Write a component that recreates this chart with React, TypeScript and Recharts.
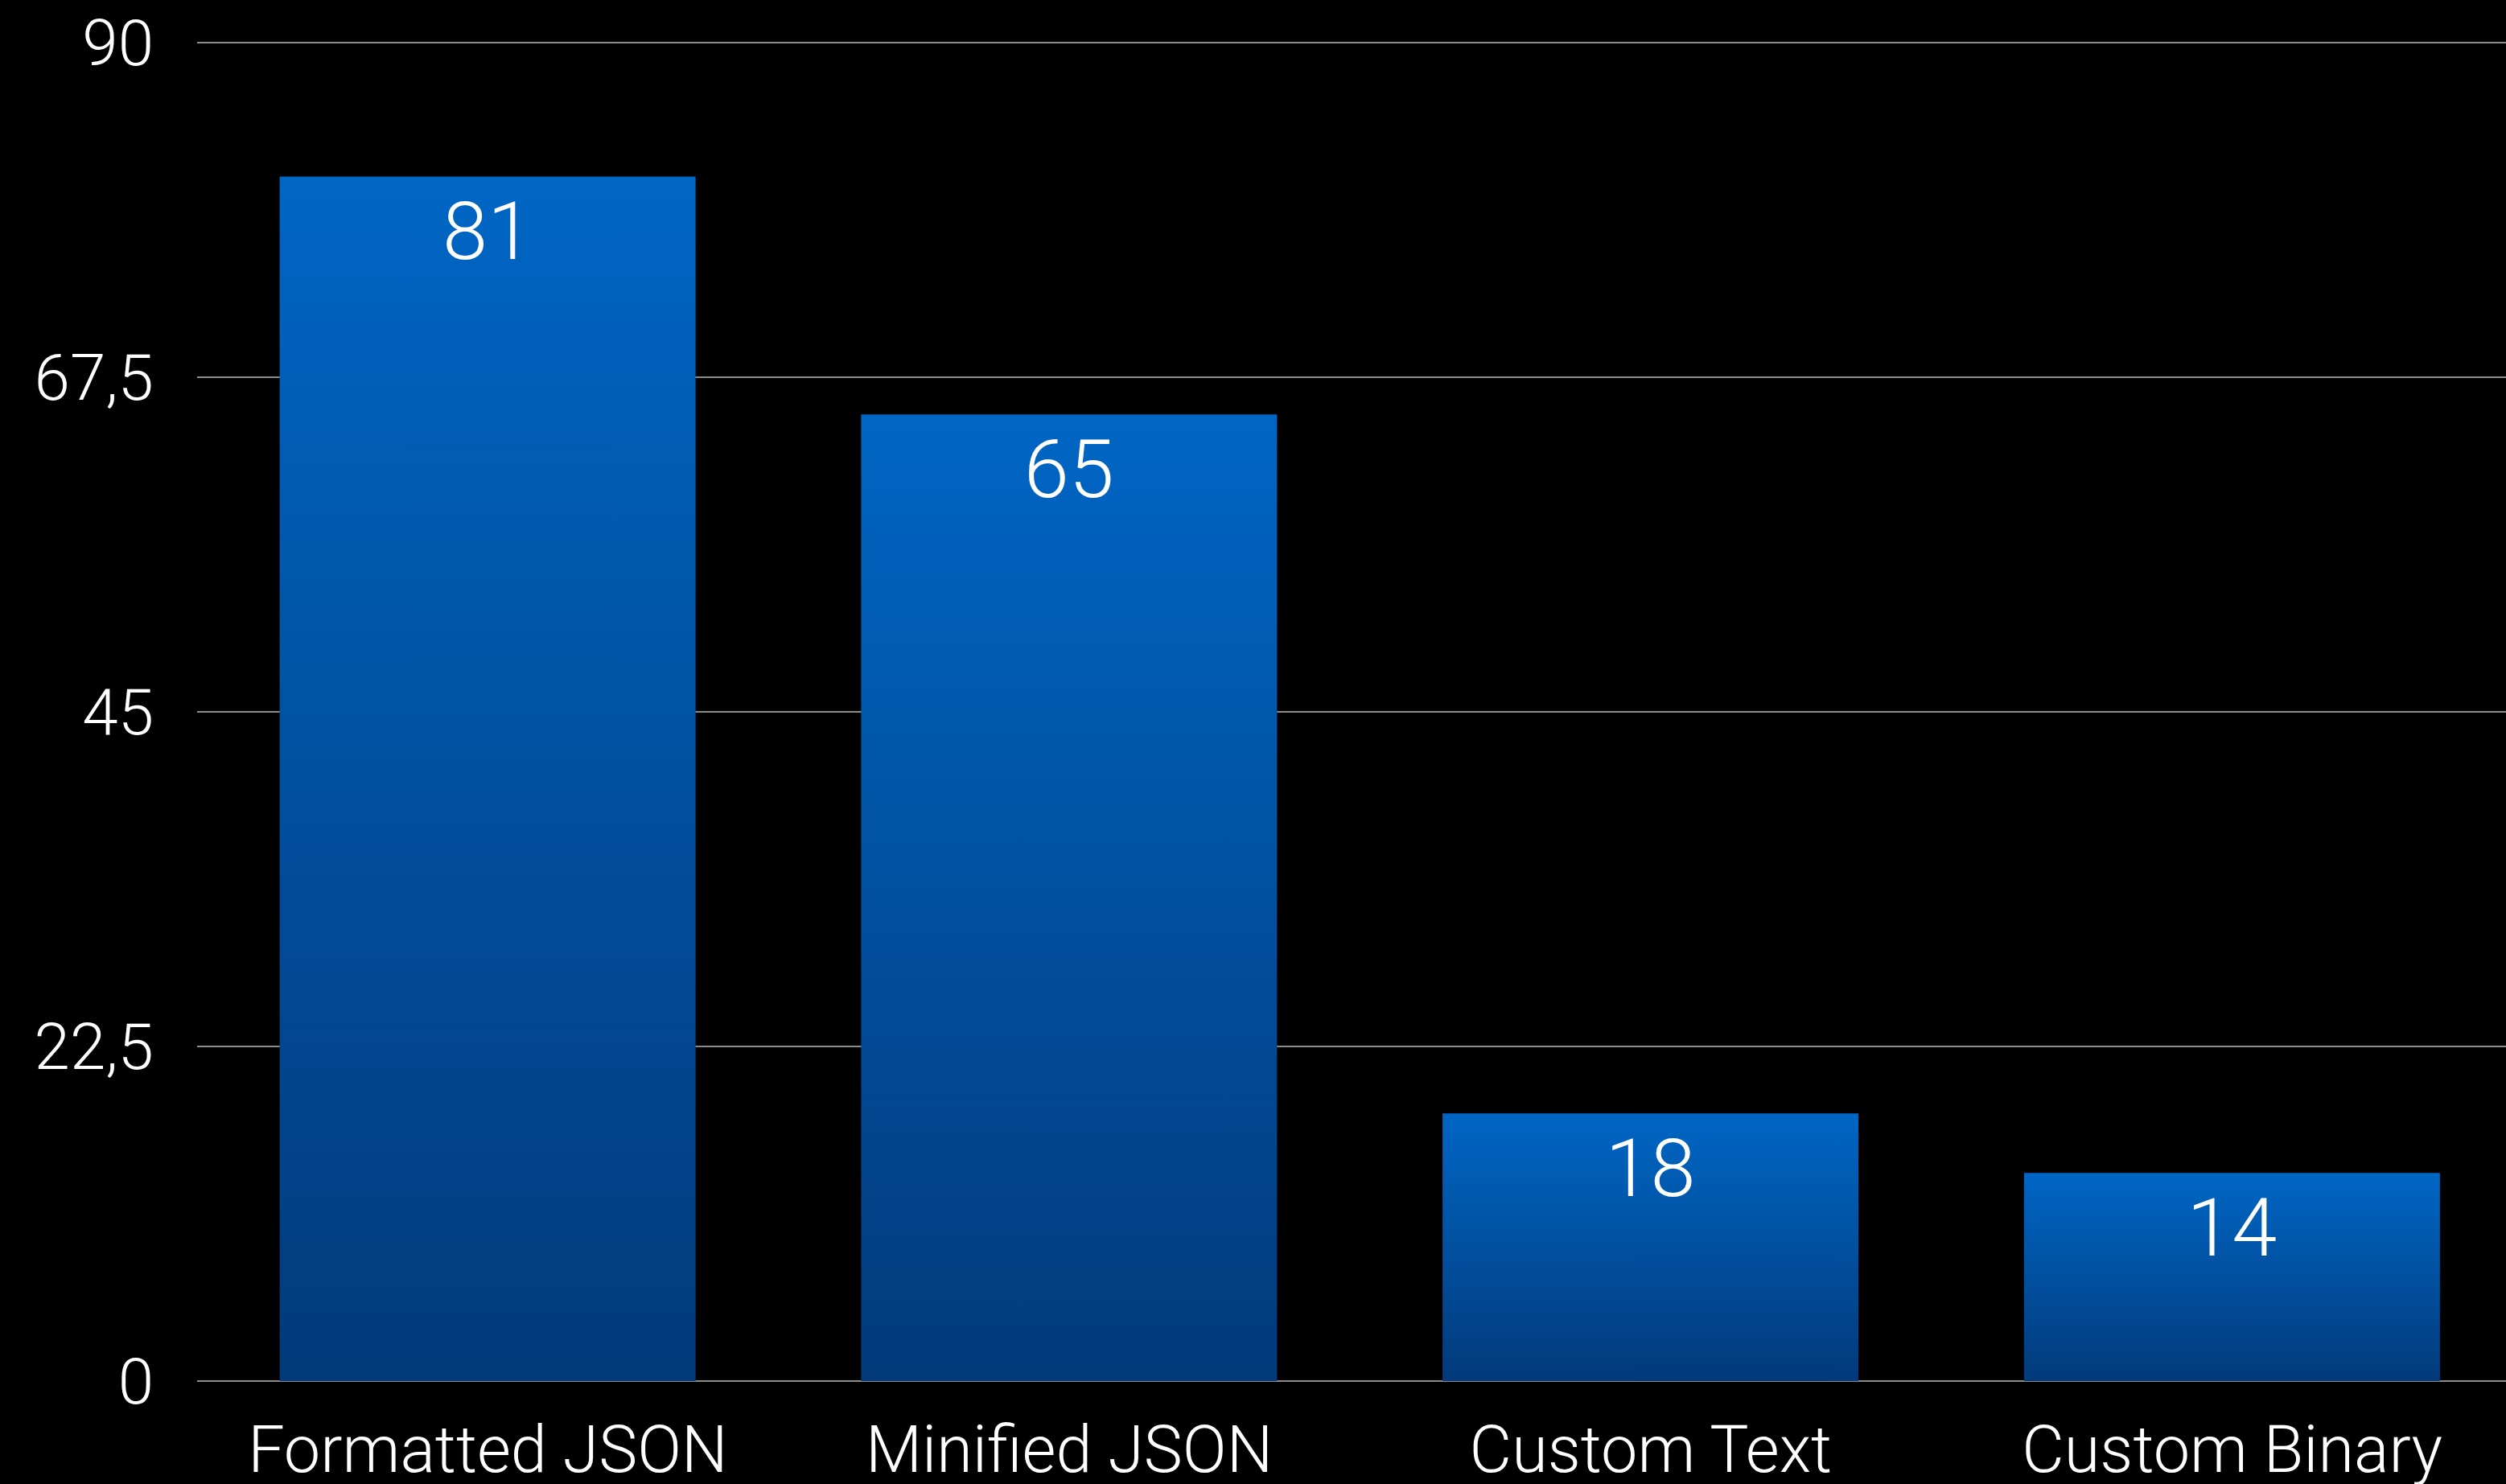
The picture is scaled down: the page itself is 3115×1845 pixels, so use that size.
import React from "react";
import { BarChart, Bar, XAxis, YAxis, CartesianGrid, LabelList } from "recharts";

const formats = ["Formatted JSON", "Minified JSON", "Custom Text", "Custom Binary"];
const sizes = [81, 65, 18, 14];
const yTicks = [0, 22.5, 45, 67.5, 90];

const data = formats.map((name, i) => ({ name, value: sizes[i] }));

const FONT = '"Helvetica Neue", Roboto, "Liberation Sans", sans-serif';

const renderValue = (props: any) => {
  const x = Number(props.x ?? 0);
  const y = Number(props.y ?? 0);
  const width = Number(props.width ?? 0);
  return (
    <text
      x={x + width / 2}
      y={y + 68}
      fill="#ffffff"
      textAnchor="middle"
      dominantBaseline="central"
      fontSize={101}
      fontWeight={300}
      fontFamily={FONT}
    >
      {props.value}
    </text>
  );
};

export default function App() {
  return (
    <div
      style={{
        position: "absolute",
        left: 0,
        top: 0,
        width: 3115,
        height: 1845,
        overflow: "hidden",
        background: "#000",
      }}
    >
      <BarChart
        width={3136}
        height={1845}
        data={data}
        margin={{ top: 53, right: 0, bottom: 0, left: 0 }}
        barCategoryGap="14.2%"
      >
        <defs>
          <linearGradient id="barFill" x1="0" y1="0" x2="0" y2="1">
            <stop offset="0%" stopColor="#0066c4" />
            <stop offset="100%" stopColor="#023a7b" />
          </linearGradient>
        </defs>
        <CartesianGrid vertical={false} stroke="#8c8c8c" strokeWidth={2} />
        <XAxis
          dataKey="name"
          axisLine={false}
          tickLine={false}
          tickSize={0}
          tickMargin={55}
          height={128}
          interval={0}
          tick={{ fill: "#ffffff", fontSize: 81, fontWeight: 300, fontFamily: FONT }}
        />
        <YAxis
          domain={[0, 90]}
          ticks={yTicks}
          width={245}
          axisLine={false}
          tickLine={false}
          tickSize={0}
          tickMargin={54}
          tickFormatter={(v: number) => String(v).replace(".", ",")}
          tick={{ fill: "#ffffff", fontSize: 80, fontWeight: 300, fontFamily: FONT }}
        />
        <Bar dataKey="value" fill="url(#barFill)" isAnimationActive={false}>
          <LabelList dataKey="value" content={renderValue} />
        </Bar>
      </BarChart>
    </div>
  );
}
